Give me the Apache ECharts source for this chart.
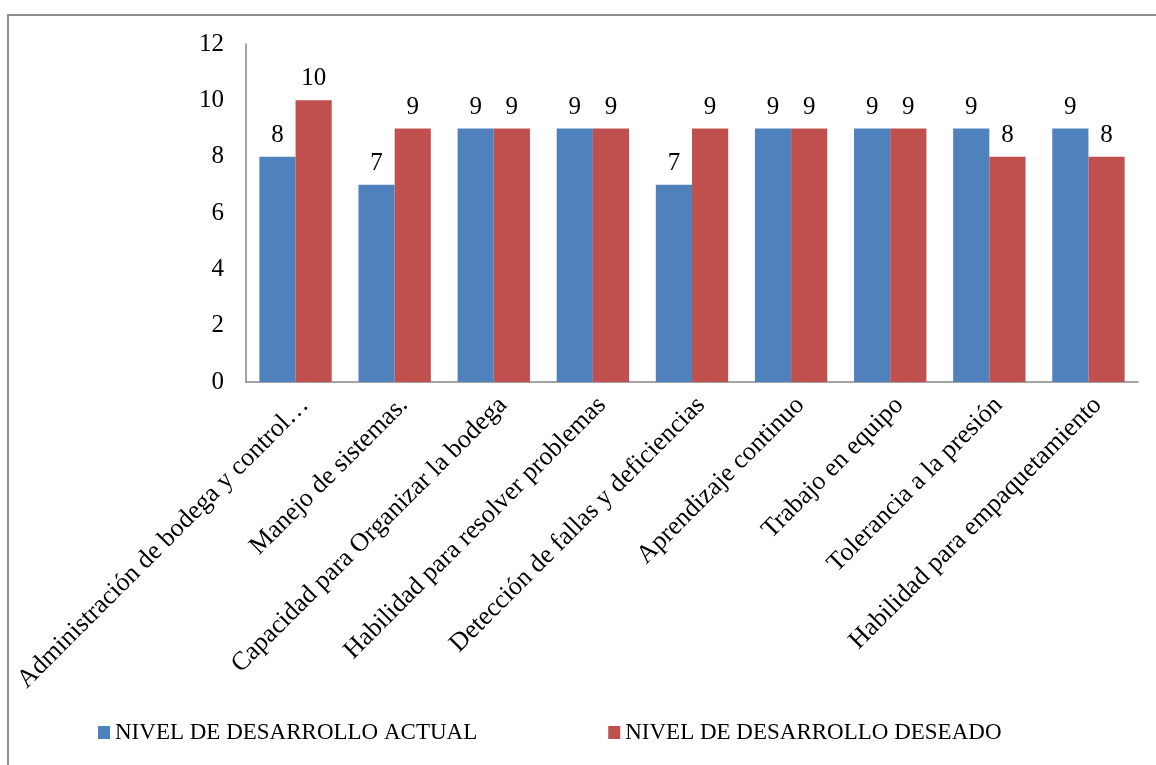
<!DOCTYPE html>
<html>
<head>
<meta charset="utf-8">
<script src="https://cdn.jsdelivr.net/npm/echarts@6/dist/echarts.min.js"></script>
<style>
  html, body { margin: 0; padding: 0; background: #fff; }
  #main { width: 1156px; height: 765px; }
</style>
</head>
<body>
<div id="main"></div>
<script>
// categorias y valores
var categorias = [
  'Administración de bodega y control…',
  'Manejo de sistemas.',
  'Capacidad para Organizar la bodega',
  'Habilidad para resolver problemas',
  'Detección de fallas y deficiencias',
  'Aprendizaje continuo',
  'Trabajo en equipo',
  'Tolerancia a la presión',
  'Habilidad para empaquetamiento'
];
var actual = [8, 7, 9, 9, 7, 9, 9, 9, 9];
var deseado = [10, 9, 9, 9, 9, 9, 9, 8, 8];
var serieNombres = ['NIVEL DE DESARROLLO ACTUAL', 'NIVEL DE DESARROLLO DESEADO'];
var ejeY = { min: 0, max: 12, interval: 2 };

var fuente = '"Liberation Serif", "Times New Roman", serif';
var chart = echarts.init(document.getElementById('main'));

var etiqueta = {
  show: true,
  position: 'top',
  distance: 9,
  color: '#000',
  fontFamily: fuente,
  fontSize: 25
};

var option = {
  backgroundColor: '#fff',
  color: ['#4F81BD', '#C0504D'],
  animation: false,
  graphic: [{
    type: 'rect',
    shape: { x: 8, y: 15, width: 1300, height: 900 },
    style: { fill: 'none', stroke: '#8f8f8f', lineWidth: 2 },
    silent: true
  }],
  grid: {
    left: 246,
    right: 18,
    top: 44,
    bottom: 383,
    containLabel: false
  },
  legend: {
    left: 98,
    top: 721,
    padding: 0,
    itemWidth: 12,
    itemHeight: 13,
    itemGap: 131,
    icon: 'rect',
    textStyle: { fontFamily: fuente, fontSize: 23, color: '#000' },
    data: serieNombres
  },
  xAxis: {
    type: 'category',
    data: categorias,
    axisLine: { lineStyle: { color: '#868686', width: 1.5 } },
    axisTick: { show: false },
    axisLabel: {
      interval: 0,
      rotate: 45,
      margin: 10,
      verticalAlign: 'top',
      color: '#000',
      fontFamily: fuente,
      fontSize: 26
    }
  },
  yAxis: {
    type: 'value',
    min: ejeY.min,
    max: ejeY.max,
    interval: ejeY.interval,
    axisLine: { show: true, lineStyle: { color: '#868686', width: 1.5 } },
    axisTick: { show: false },
    splitLine: { show: false },
    axisLabel: {
      margin: 22,
      color: '#000',
      fontFamily: fuente,
      fontSize: 25
    }
  },
  series: [
    {
      name: serieNombres[0],
      type: 'bar',
      data: actual,
      barGap: '0%',
      barCategoryGap: '27%',
      label: etiqueta
    },
    {
      name: serieNombres[1],
      type: 'bar',
      data: deseado,
      label: etiqueta
    }
  ]
};

chart.setOption(option);
</script>
</body>
</html>
